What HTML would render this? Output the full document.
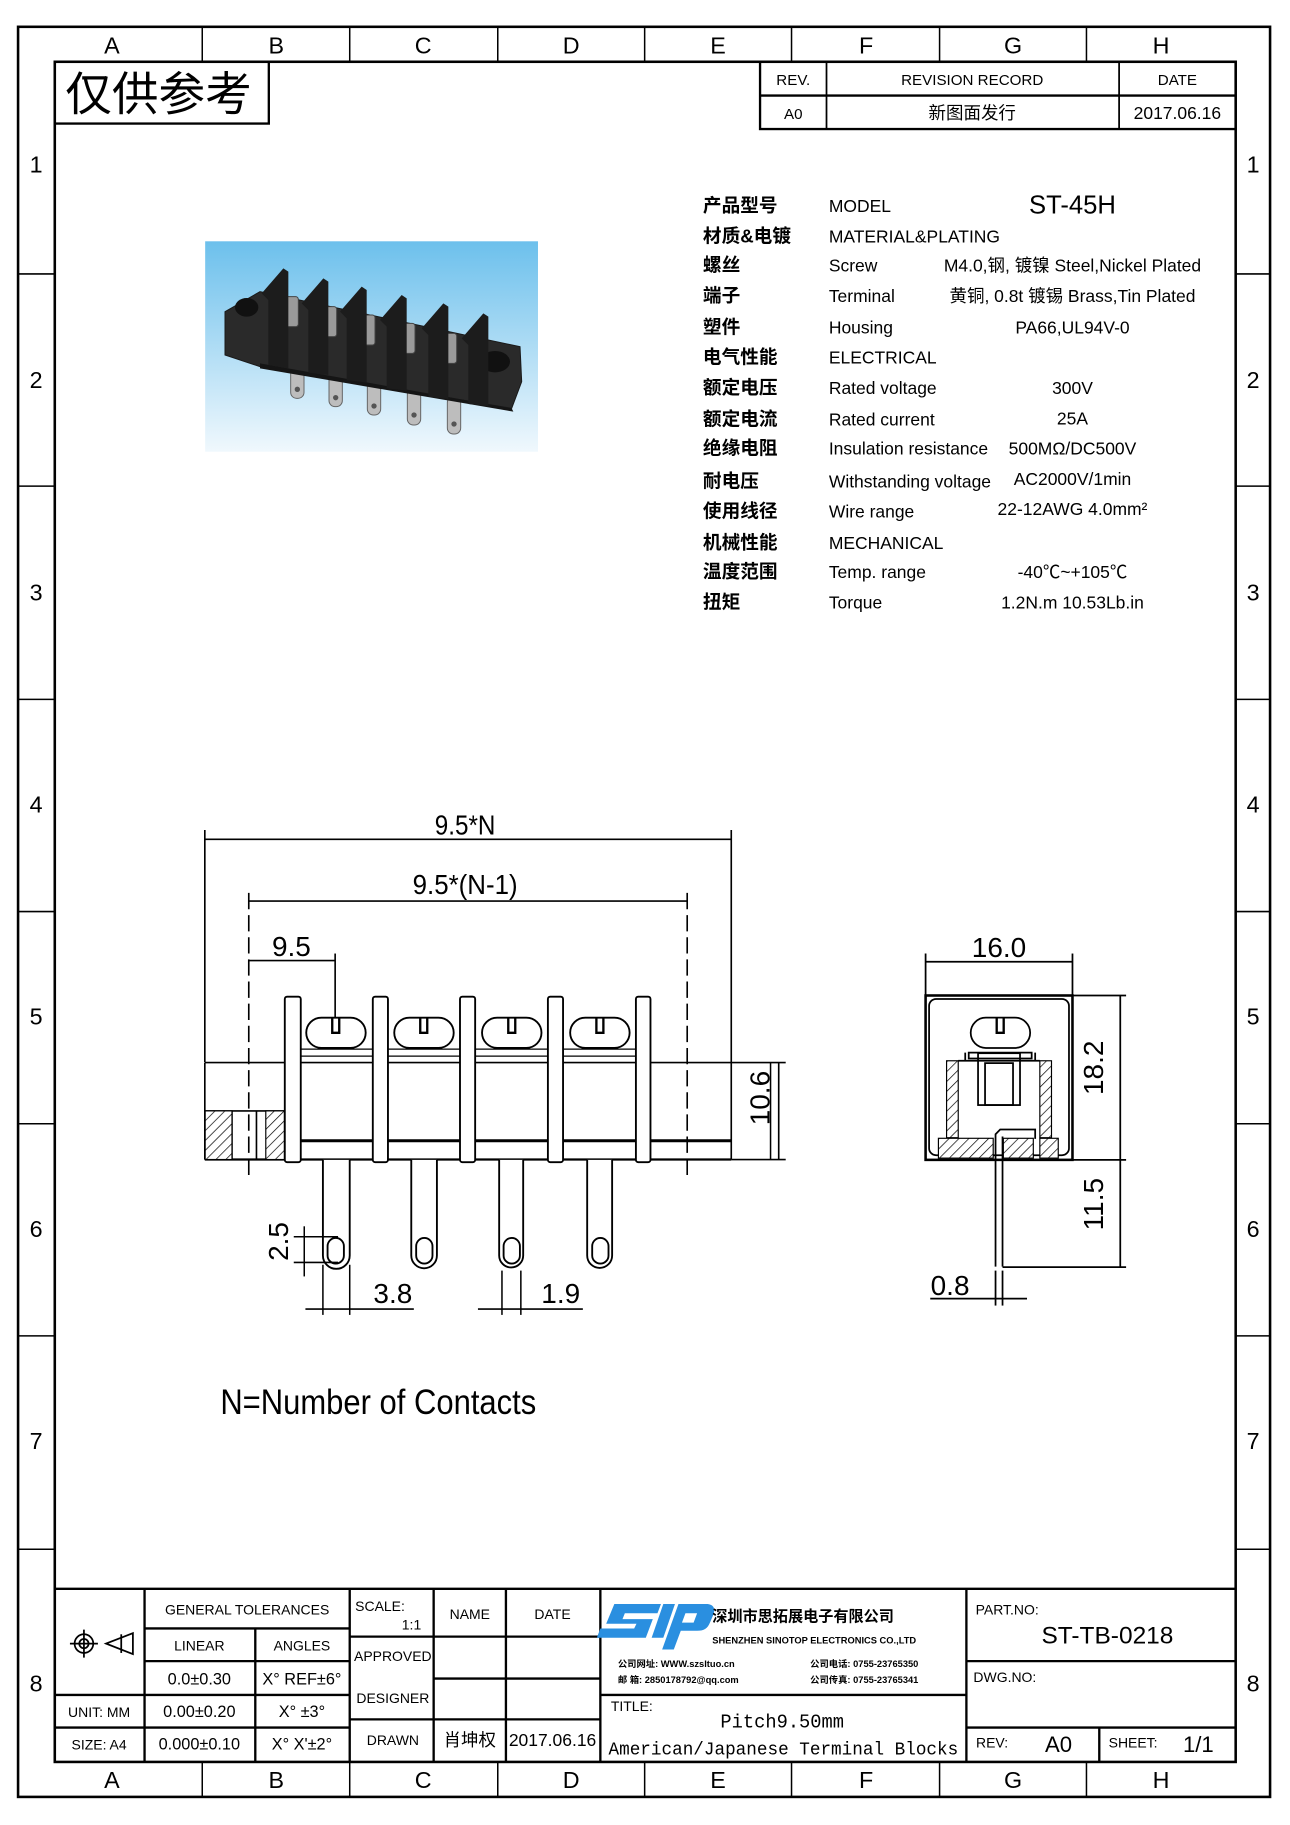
<!DOCTYPE html>
<html><head><meta charset="utf-8"><style>
html,body{margin:0;padding:0;background:#fff}
svg{display:block}
text{font-family:"Liberation Sans Narrow","Liberation Sans","Noto Sans CJK SC",sans-serif;fill:#000}
.cn{font-family:"Liberation Sans Narrow","Liberation Sans","Noto Sans CJK SC",sans-serif;font-weight:bold}
.m{font-family:"Liberation Mono","Noto Sans CJK SC",monospace}
</style></head><body>
<svg width="1290" height="1825" viewBox="0 0 1106.6 1565.6" preserveAspectRatio="none" xmlns="http://www.w3.org/2000/svg">
<defs>
<pattern id="h" width="6" height="6" patternUnits="userSpaceOnUse" patternTransform="rotate(45)">
<rect width="6" height="6" fill="#fff"/><line x1="0" y1="0" x2="0" y2="6" stroke="#000" stroke-width="1.2"/></pattern>
<linearGradient id="bg" x1="0" y1="0" x2="0" y2="1"><stop offset="0" stop-color="#6cc0ec"/><stop offset="1" stop-color="#f0f8fd"/></linearGradient>
</defs>
<g fill="none" stroke="#000">
<rect x="15.5" y="23" width="1074" height="1518.5" stroke-width="2.2"/>
<rect x="47" y="53" width="1013" height="1458.5" stroke-width="2.2"/>
<g stroke-width="1.3">
<line x1="173.5" y1="23" x2="173.5" y2="53"/><line x1="300" y1="23" x2="300" y2="53"/><line x1="427" y1="23" x2="427" y2="53"/><line x1="553" y1="23" x2="553" y2="53"/><line x1="679" y1="23" x2="679" y2="53"/><line x1="806" y1="23" x2="806" y2="53"/><line x1="932" y1="23" x2="932" y2="53"/>
<line x1="173.5" y1="1511.5" x2="173.5" y2="1541.5"/><line x1="300" y1="1511.5" x2="300" y2="1541.5"/><line x1="427" y1="1511.5" x2="427" y2="1541.5"/><line x1="553" y1="1511.5" x2="553" y2="1541.5"/><line x1="679" y1="1511.5" x2="679" y2="1541.5"/><line x1="806" y1="1511.5" x2="806" y2="1541.5"/><line x1="932" y1="1511.5" x2="932" y2="1541.5"/>
<path d="M15.5 235H47M15.5 417H47M15.5 600H47M15.5 782H47M15.5 964H47M15.5 1146H47M15.5 1329H47"/>
<path d="M1060 235H1089.5M1060 417H1089.5M1060 600H1089.5M1060 782H1089.5M1060 964H1089.5M1060 1146H1089.5M1060 1329H1089.5"/>
</g>
<rect x="47" y="53" width="183.6" height="53" stroke-width="2"/>
<rect x="652" y="53" width="408" height="57.7" stroke-width="2"/>
<line x1="652" y1="82" x2="1060" y2="82" stroke-width="2"/>
<line x1="709" y1="53" x2="709" y2="110.7" stroke-width="1.5"/>
<line x1="960" y1="53" x2="960" y2="110.7" stroke-width="1.5"/>
<g stroke-width="2">
<line x1="47" y1="1363" x2="1060" y2="1363"/>
<line x1="124" y1="1363" x2="124" y2="1511"/>
<line x1="219" y1="1397" x2="219" y2="1511"/>
<line x1="300" y1="1363" x2="300" y2="1511"/>
<line x1="372" y1="1363" x2="372" y2="1511"/>
<line x1="434" y1="1363" x2="434" y2="1511"/>
<line x1="515" y1="1363" x2="515" y2="1511"/>
<line x1="829" y1="1363" x2="829" y2="1511"/>
<line x1="943" y1="1482" x2="943" y2="1511"/>
<line x1="124" y1="1397" x2="300" y2="1397"/>
<line x1="124" y1="1425" x2="300" y2="1425"/>
<line x1="47" y1="1454" x2="300" y2="1454"/>
<line x1="47" y1="1482" x2="300" y2="1482"/>
<line x1="300" y1="1404" x2="515" y2="1404"/>
<line x1="372" y1="1440" x2="515" y2="1440"/>
<line x1="300" y1="1475" x2="515" y2="1475"/>
<line x1="515" y1="1454" x2="829" y2="1454"/>
<line x1="829" y1="1425" x2="1060" y2="1425"/>
<line x1="829" y1="1482" x2="1060" y2="1482"/>
</g>
<g stroke-width="1.5"><circle cx="72" cy="1410" r="8"/><circle cx="72" cy="1410" r="4"/><line x1="60" y1="1410" x2="84" y2="1410"/><line x1="72" y1="1398" x2="72" y2="1422"/>
<path d="M91 1410L114 1401V1419Z"/><line x1="104" y1="1402" x2="104" y2="1418"/></g>
</g>

<!-- photo -->
<rect x="176" y="207" width="285.5" height="180.5" fill="url(#bg)"/>
<g transform="translate(171.57,197.3) scale(0.28595)">
<g fill="#bdbdbd" stroke="#666" stroke-width="3">
<rect x="272" y="400" width="40" height="105" rx="18"/><rect x="387" y="425" width="40" height="105" rx="18"/><rect x="502" y="450" width="40" height="105" rx="18"/><rect x="622" y="475" width="40" height="110" rx="18"/><rect x="742" y="500" width="40" height="112" rx="18"/>
</g>
<g fill="#555"><circle cx="292" cy="478" r="8"/><circle cx="407" cy="503" r="8"/><circle cx="522" cy="528" r="8"/><circle cx="642" cy="555" r="8"/><circle cx="762" cy="582" r="8"/></g>
<polygon points="75,245 180,185 960,350 965,455 935,535 180,410 75,375" fill="#2a2a2a" stroke="#1a1a1a" stroke-width="3"/>
<polygon points="180,400 935,535 940,545 180,415" fill="#151515"/>
<ellipse cx="140" cy="232" rx="35" ry="28" fill="#111"/>
<ellipse cx="885" cy="395" rx="45" ry="32" fill="#111"/>
<g fill="#9a9a9a" stroke="#444" stroke-width="3">
<rect x="235" y="200" width="60" height="90" rx="8"/><rect x="350" y="230" width="60" height="90" rx="8"/><rect x="465" y="255" width="60" height="90" rx="8"/><rect x="585" y="280" width="60" height="90" rx="8"/><rect x="710" y="310" width="60" height="90" rx="8"/>
</g>
<g fill="#1c1c1c">
<polygon points="185,190 250,115 265,125 265,415 205,405 205,210"/>
<polygon points="305,220 370,145 385,155 385,435 325,428 325,240"/>
<polygon points="420,245 485,170 500,180 500,458 440,450 440,265"/>
<polygon points="540,270 605,195 620,205 620,482 560,475 560,290"/>
<polygon points="665,295 730,220 745,230 745,507 685,500 685,315"/>
<polygon points="785,325 850,250 865,260 865,528 805,522 805,345"/>
</g>
</g>

<text x="56" y="95" font-size="40" class="cn" style="font-weight:normal">仅供参考</text>
<g font-size="13" text-anchor="middle" class="cn" style="font-weight:normal">
<text x="680.5" y="73">REV.</text><text x="834" y="73">REVISION RECORD</text><text x="1010" y="73">DATE</text>
<text x="680.5" y="102">A0</text><text x="834" y="102" font-size="15">新图面发行</text><text x="1010" y="102" font-size="15">2017.06.16</text>
</g>
<g font-size="20" text-anchor="middle">
<text x="96" y="46">A</text><text x="237" y="46">B</text><text x="363" y="46">C</text><text x="490" y="46">D</text><text x="616" y="46">E</text><text x="743" y="46">F</text><text x="869" y="46">G</text><text x="996" y="46">H</text>
<text x="96" y="1534">A</text><text x="237" y="1534">B</text><text x="363" y="1534">C</text><text x="490" y="1534">D</text><text x="616" y="1534">E</text><text x="743" y="1534">F</text><text x="869" y="1534">G</text><text x="996" y="1534">H</text>
<text x="31" y="148">1</text><text x="31" y="333">2</text><text x="31" y="515">3</text><text x="31" y="697">4</text><text x="31" y="879">5</text><text x="31" y="1061">6</text><text x="31" y="1243">7</text><text x="31" y="1451">8</text>
<text x="1075" y="148">1</text><text x="1075" y="333">2</text><text x="1075" y="515">3</text><text x="1075" y="697">4</text><text x="1075" y="879">5</text><text x="1075" y="1061">6</text><text x="1075" y="1243">7</text><text x="1075" y="1451">8</text>
</g>

<g font-size="16" class="cn">
<text x="603" y="182">产品型号</text><text x="603" y="208">材质&amp;电镀</text><text x="603" y="233">螺丝</text><text x="603" y="259">端子</text><text x="603" y="286">塑件</text><text x="603" y="312">电气性能</text><text x="603" y="338">额定电压</text><text x="603" y="365">额定电流</text><text x="603" y="390">绝缘电阻</text><text x="603" y="418">耐电压</text><text x="603" y="444">使用线径</text><text x="603" y="471">机械性能</text><text x="603" y="496">温度范围</text><text x="603" y="522">扭矩</text>
</g>
<g font-size="15">
<text x="711" y="182">MODEL</text><text x="711" y="208">MATERIAL&amp;PLATING</text><text x="711" y="233">Screw</text><text x="711" y="259">Terminal</text><text x="711" y="286">Housing</text><text x="711" y="312">ELECTRICAL</text><text x="711" y="338">Rated voltage</text><text x="711" y="365">Rated current</text><text x="711" y="390">Insulation resistance</text><text x="711" y="418">Withstanding voltage</text><text x="711" y="444">Wire range</text><text x="711" y="471">MECHANICAL</text><text x="711" y="496">Temp. range</text><text x="711" y="522">Torque</text>
</g>
<g font-size="15" text-anchor="middle">
<text x="920" y="183" font-size="22">ST-45H</text>
<text x="920" y="233">M4.0,钢, 镀镍 Steel,Nickel Plated</text>
<text x="920" y="259">黄铜, 0.8t 镀锡 Brass,Tin Plated</text>
<text x="920" y="286">PA66,UL94V-0</text>
<text x="920" y="338">300V</text><text x="920" y="364">25A</text>
<text x="920" y="390">500MΩ/DC500V</text><text x="920" y="416">AC2000V/1min</text>
<text x="920" y="442">22-12AWG 4.0mm²</text>
<text x="920" y="496">-40℃~+105℃</text><text x="920" y="522">1.2N.m  10.53Lb.in</text>
</g>

<!-- front view -->
<g fill="none" stroke="#000" stroke-width="1.4">
<line x1="175.7" y1="712" x2="175.7" y2="911"/><line x1="627.3" y1="712" x2="627.3" y2="911"/>
<line x1="175.7" y1="720" x2="627.3" y2="720"/>
<line x1="213.4" y1="766" x2="213.4" y2="1010" stroke-dasharray="14 5"/><line x1="589.5" y1="766" x2="589.5" y2="1010" stroke-dasharray="14 5"/>
<line x1="213.4" y1="773" x2="589.5" y2="773"/>
<line x1="213.4" y1="824" x2="287.5" y2="824"/><line x1="287.5" y1="818" x2="287.5" y2="880"/>
<line x1="175.7" y1="911.5" x2="674" y2="911.5"/>
<line x1="175.7" y1="994.7" x2="627.3" y2="994.7" stroke-width="2"/>
<line x1="175.7" y1="911.5" x2="175.7" y2="994.7"/>
<line x1="627.3" y1="911.5" x2="627.3" y2="994.7"/>
<line x1="258" y1="978.6" x2="627.3" y2="978.6" stroke-width="2.5"/>
<line x1="175.7" y1="953" x2="244" y2="953"/>
<line x1="199" y1="953" x2="199" y2="994.7"/>
<line x1="220" y1="953" x2="220" y2="994.7"/>
<line x1="627.3" y1="994.7" x2="674" y2="994.7"/>
<line x1="668" y1="911.5" x2="668" y2="994.7"/>
<path d="M258 900H545M258 906H545" stroke-width="1"/>
</g>
<rect x="176" y="953" width="23" height="41.7" fill="url(#h)" stroke="#000" stroke-width="1"/>
<rect x="228" y="953" width="16" height="41.7" fill="url(#h)" stroke="#000" stroke-width="1"/>
<g fill="#fff" stroke="#000" stroke-width="1.6">
<rect x="244.3" y="855" width="13.7" height="142" rx="2"/>
<rect x="319.8" y="855" width="13" height="142" rx="2"/>
<rect x="394.6" y="855" width="13" height="142" rx="2"/>
<rect x="470" y="855" width="13" height="142" rx="2"/>
<rect x="545.5" y="855" width="12.5" height="142" rx="2"/>
<rect x="262.7" y="873" width="51" height="26" rx="13"/>
<rect x="338.2" y="873" width="51" height="26" rx="13"/>
<rect x="413.5" y="873" width="51" height="26" rx="13"/>
<rect x="489.1" y="873" width="51" height="26" rx="13"/>
<path d="M277 995V1077a11.5 11.5 0 0 0 23 0V995"/>
<path d="M352.8 995V1077a11 11 0 0 0 22 0V995"/>
<path d="M428.2 995V1077a10.3 10.3 0 0 0 20.6 0V995"/>
<path d="M503.7 995V1077a10.7 10.7 0 0 0 21.4 0V995"/>
<rect x="281" y="1062" width="14" height="22" rx="7"/><rect x="357" y="1062" width="14" height="22" rx="7"/><rect x="432" y="1062" width="14" height="22" rx="7"/><rect x="508" y="1062" width="14" height="22" rx="7"/>
</g>
<g stroke="#000" stroke-width="2" fill="none">
<path d="M285 873v13h6v-13M360.5 873v13h6v-13M436 873v13h6v-13M511.6 873v13h6v-13"/>
</g>
<g fill="none" stroke="#000" stroke-width="1.3">
<line x1="661" y1="911.5" x2="661" y2="994.7"/>
<line x1="261" y1="1052" x2="261" y2="1095"/><line x1="252" y1="1061" x2="290" y2="1061"/><line x1="252" y1="1083" x2="290" y2="1083"/>
<line x1="277" y1="1085" x2="277" y2="1128"/><line x1="300" y1="1085" x2="300" y2="1128"/>
<line x1="262" y1="1123" x2="355" y2="1123"/>
<line x1="430.6" y1="1090" x2="430.6" y2="1128"/><line x1="446.8" y1="1090" x2="446.8" y2="1128"/>
<line x1="410" y1="1123" x2="500" y2="1123"/>
</g>
<g font-size="24" text-anchor="middle">
<text x="399" y="716" textLength="52" lengthAdjust="spacingAndGlyphs">9.5*N</text>
<text x="399" y="767" textLength="90" lengthAdjust="spacingAndGlyphs">9.5*(N-1)</text>
<text x="250" y="820">9.5</text>
<text x="337" y="1118">3.8</text>
<text x="481" y="1118">1.9</text>
<text x="670" y="952" transform="rotate(-90 660 952)">10.6</text>
<text x="255" y="1073" transform="rotate(-90 247 1073)">2.5</text>
</g>

<!-- side view -->
<g fill="none" stroke="#000" stroke-width="1.5">
<line x1="794" y1="818" x2="794" y2="995"/><line x1="920" y1="818" x2="920" y2="854"/>
<line x1="794" y1="825" x2="920" y2="825"/>
<rect x="794" y="854" width="126" height="141" stroke-width="2.2"/>
<rect x="797" y="857" width="120" height="134" rx="6"/>
<line x1="920" y1="854" x2="966" y2="854"/><line x1="920" y1="995" x2="966" y2="995"/>
<line x1="961" y1="854" x2="961" y2="1087"/>
<line x1="860" y1="1087" x2="966" y2="1087"/>
<rect x="832.7" y="873" width="51" height="26" rx="13" fill="#fff"/>
<path d="M855 873v13h6v-13" stroke-width="2"/>
<path d="M831 903h54v5H831z"/>
<path d="M822 910H892M828 903v7M888 903v7"/>
<rect x="839" y="903.5" width="36" height="44.5"/>
<rect x="845" y="912" width="24" height="36"/>
<path d="M854 1086.6V973l4-4h30v8M860 1086.6V975"/>
<line x1="798" y1="1114" x2="881" y2="1114"/>
<line x1="854" y1="1090" x2="854" y2="1120"/><line x1="860" y1="1090" x2="860" y2="1120"/>
</g>
<g stroke="#000" stroke-width="1" fill="url(#h)">
<rect x="812" y="910" width="10" height="66"/>
<rect x="892" y="910" width="10" height="66"/>
<rect x="805" y="976.5" width="47" height="17"/>
<rect x="860.7" y="976.5" width="25.7" height="17"/>
<rect x="892" y="976.5" width="15.8" height="17"/>
</g>
<g font-size="24" text-anchor="middle">
<text x="857" y="821">16.0</text>
<text x="815" y="1111">0.8</text>
<text x="954" y="924" transform="rotate(-90 946 924)">18.2</text>
<text x="954" y="1041" transform="rotate(-90 946 1041)">11.5</text>
</g>
<text x="189" y="1213" font-size="30" textLength="271" lengthAdjust="spacingAndGlyphs">N=Number of Contacts</text>

<g font-size="12" text-anchor="middle" class="cn" style="font-weight:normal">
<text x="212" y="1385">GENERAL TOLERANCES</text>
<text x="171" y="1416">LINEAR</text><text x="259" y="1416">ANGLES</text>
<text x="171" y="1445" font-size="14">0.0±0.30</text><text x="259" y="1445" font-size="14">X° REF±6°</text>
<text x="85" y="1473">UNIT: MM</text><text x="171" y="1473" font-size="14">0.00±0.20</text><text x="259" y="1473" font-size="14">X°  ±3°</text>
<text x="85" y="1501">SIZE: A4</text><text x="171" y="1501" font-size="14">0.000±0.10</text><text x="259" y="1501" font-size="14">X° X'±2°</text>
<text x="326" y="1382">SCALE:</text><text x="353" y="1398">1:1</text>
<text x="403" y="1389">NAME</text><text x="474" y="1389">DATE</text>
<text x="337" y="1425">APPROVED</text><text x="337" y="1461">DESIGNER</text><text x="337" y="1497">DRAWN</text>
<text x="403" y="1498" font-size="15">肖坤权</text><text x="474" y="1498" font-size="15">2017.06.16</text>
<text x="864" y="1385">PART.NO:</text><text x="862" y="1443">DWG.NO:</text>
<text x="851" y="1499">REV:</text><text x="972" y="1499">SHEET:</text>
<text x="542" y="1468">TITLE:</text>
</g>
<text x="950" y="1410" font-size="21" text-anchor="middle">ST-TB-0218</text>
<text x="908" y="1503" font-size="19" text-anchor="middle">A0</text>
<text x="1028" y="1503" font-size="19" text-anchor="middle">1/1</text>
<text x="618" y="1482" font-size="17" class="m" textLength="106" lengthAdjust="spacingAndGlyphs">Pitch9.50mm</text>
<text x="522" y="1505" font-size="16" class="m" textLength="300" lengthAdjust="spacingAndGlyphs">American/Japanese Terminal Blocks</text>
<g fill="#2a8fe0">
<path d="M527 1376h40l-3 8h-28l-2 5h26l-6 16h-42l3-8h29l2-4h-26z"/>
<path d="M569 1376h10l-10 29h-10z"/>
<path d="M582 1376h24c6 0 8 4 6 9l-3 7c-2 5-5 7-11 7h-14l-6 16h-10zm6 8l-3 8h10l3-8z"/>
</g>
<text x="611" y="1391" font-size="13" class="cn">深圳市思拓展电子有限公司</text>
<g font-size="8" class="cn">
<text x="611" y="1410">SHENZHEN SINOTOP ELECTRONICS CO.,LTD</text>
<text x="530" y="1430">公司网址: WWW.szsltuo.cn</text><text x="530" y="1444">邮    箱: 2850178792@qq.com</text>
<text x="695" y="1430">公司电话: 0755-23765350</text><text x="695" y="1444">公司传真: 0755-23765341</text>
</g>
</svg>
</body></html>
